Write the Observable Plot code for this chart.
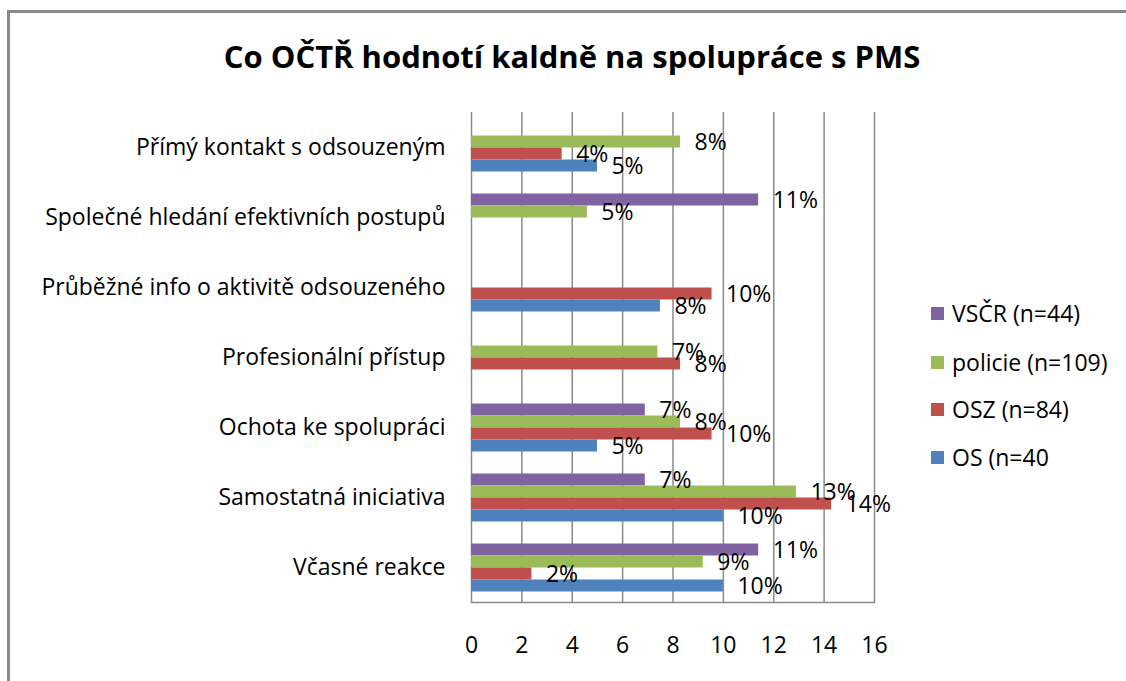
<!DOCTYPE html>
<html>
<head>
<meta charset="utf-8">
<script src="https://cdn.jsdelivr.net/npm/d3@7"></script>
<script src="https://cdn.jsdelivr.net/npm/@observablehq/plot@0.6"></script>
<style>
  html, body { margin: 0; padding: 0; background: #fff; }
  #wrap { position: relative; width: 1126px; height: 681px; overflow: hidden; font-family: "Open Sans", sans-serif; }
  #border { position: absolute; left: 7px; top: 10px; width: 1200px; height: 800px; border-left: 3px solid #898989; border-top: 3px solid #898989; box-sizing: border-box; }
  #title { position: absolute; left: 9px; top: 34px; width: 1126px; text-align: center; font-weight: bold; font-size: 31px; line-height: 44px; color: #000; }
  #chart { position: absolute; left: 0; top: 0; }
  #legend { position: absolute; left: 931px; top: 0; }
  .item { position: absolute; left: 0; white-space: nowrap; font-size: 23px; line-height: 30px; height: 30px; display: flex; align-items: center; color: #000; }
  .sw { width: 13px; height: 13px; margin-right: 8px; display: inline-block; }
</style>
</head>
<body>
<div id="wrap">
  <div id="border"></div>
  <div id="chart"></div>
  <div id="title">Co OČTŘ hodnotí kaldně na spolupráce s PMS</div>
  <div id="legend"></div>
</div>
<script>
// Categories, top to bottom
const categories = [
  "Přímý kontakt s odsouzeným",
  "Společné hledání efektivních postupů",
  "Průběžné info o aktivitě odsouzeného",
  "Profesionální přístup",
  "Ochota ke spolupráci",
  "Samostatná iniciativa",
  "Včasné reakce"
];
// Series names (order within each group, top to bottom)
const seriesNames = ["VSČR (n=44)", "policie (n=109)", "OSZ (n=84)", "OS (n=40"];
const seriesColors = ["#8064A2", "#9BBB59", "#C0504D", "#4F81BD"];
// Values per series, aligned with categories (null = no bar)
const vscr    = [null, 11.4, null, null, 6.9, 6.9, 11.4];
const policie = [8.3, 4.6, null, 7.4, 8.3, 12.9, 9.2];
const osz     = [3.6, null, 9.55, 8.3, 9.55, 14.3, 2.4];
const os      = [5.0, null, 7.5, null, 5.0, 10.0, 10.0];
const xTicks = [0, 2, 4, 6, 8, 10, 12, 14, 16];

const seriesValues = [vscr, policie, osz, os];
const rows = [];
categories.forEach((c, i) => {
  seriesNames.forEach((s, j) => {
    const v = seriesValues[j][i];
    if (v != null) rows.push({category: c, series: s, value: v});
  });
});

const gray = "#8a8a8a";
const plot = Plot.plot({
  width: 1126,
  height: 681,
  marginLeft: 471,
  marginRight: 252,
  marginTop: 110.5,
  marginBottom: 77.5,
  style: {fontFamily: "Open Sans, sans-serif", fontSize: "23px", color: "#000", background: "transparent", overflow: "visible"},
  x: {domain: [0, 16], ticks: xTicks},
  fy: {domain: categories, padding: 0},
  y: {domain: seriesNames, paddingInner: 0, paddingOuter: 0.8, axis: null},
  color: {domain: seriesNames, range: seriesColors},
  marks: [
    Plot.gridX(xTicks, {stroke: gray, strokeOpacity: 1, strokeWidth: 1.5}),
    Plot.frame({anchor: "bottom", facetAnchor: "bottom", stroke: gray, strokeWidth: 1.5}),
    Plot.barX(rows, {fy: "category", y: "series", x: "value", fill: "series"}),
    Plot.text(rows, {fy: "category", y: "series", x: "value", text: d => Math.round(d.value) + "%", textAnchor: "start", dx: 14, dy: 1, fontSize: 23, fill: "#000"}),
    Plot.axisFy({anchor: "left", tickSize: 0, tickPadding: 26, label: null, fontSize: 23}),
    Plot.axisX(xTicks, {tickSize: 0, tickPadding: 34, label: null, fontSize: 23})
  ]
});
document.getElementById("chart").appendChild(plot);

const legendTops = [313, 362, 409, 457];
const legend = document.getElementById("legend");
seriesNames.forEach((s, j) => {
  const item = document.createElement("div");
  item.className = "item";
  item.style.top = (legendTops[j] - 15) + "px";
  const sw = document.createElement("span");
  sw.className = "sw";
  sw.style.background = seriesColors[j];
  item.appendChild(sw);
  item.appendChild(document.createTextNode(s));
  legend.appendChild(item);
});
</script>
</body>
</html>
